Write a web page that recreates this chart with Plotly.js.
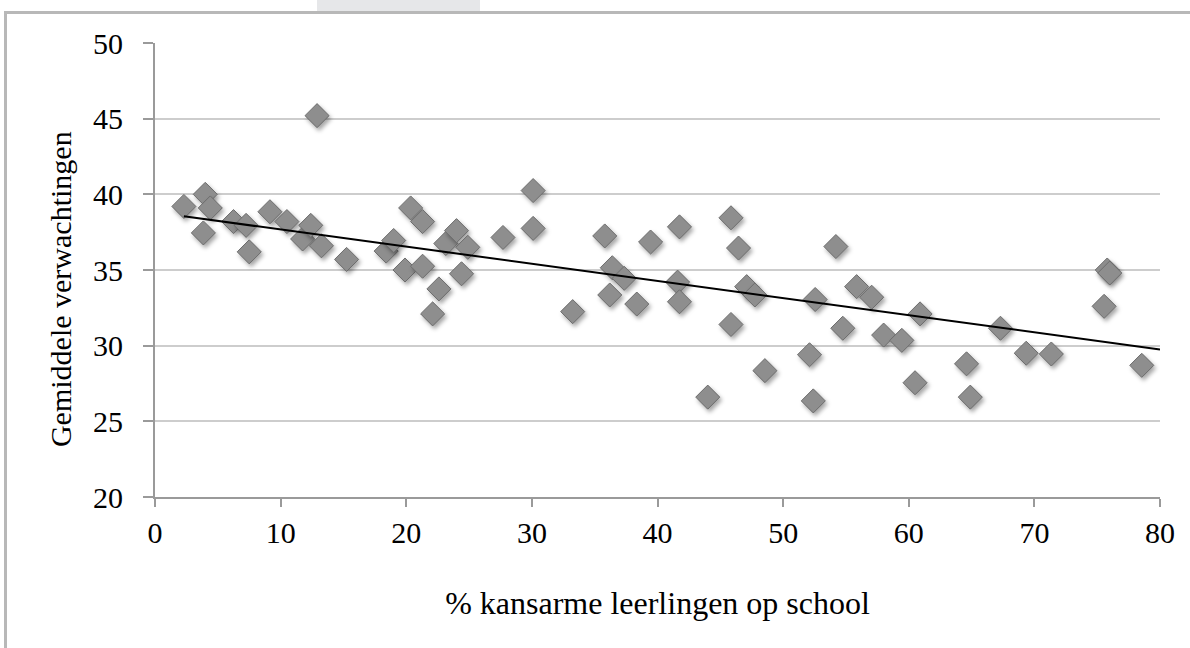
<!DOCTYPE html>
<html>
<head>
<meta charset="utf-8">
<script src="https://cdn.plot.ly/plotly-3.0.1.min.js"></script>
<style>
  html, body { margin: 0; padding: 0; background: #ffffff; overflow: hidden; }
  #chart { width: 1190px; height: 648px; }
  #frame { position: absolute; left: 4px; top: 11px; width: 1300px; height: 800px;
           border: 3px solid #b8b8b8; pointer-events: none; box-sizing: border-box; }
  #tab { position: absolute; left: 317px; top: 0px; width: 163px; height: 11px;
         background: #e6e7e9; pointer-events: none; }
  .scatterlayer .trace:first-child .points path {
    filter: drop-shadow(2px 3px 2px rgba(0,0,0,0.35));
  }
</style>
</head>
<body>
<div id="chart"></div>
<div id="frame"></div>
<div id="tab"></div>
<script>
// % kansarme leerlingen op school
const pctKansarm = [
  2.3, 4.0, 4.4, 3.85, 6.25, 7.25, 7.5, 9.15, 10.5, 11.75,
  12.4, 13.25, 12.9, 15.25, 18.4, 19.0, 19.9, 20.35, 21.3, 21.3,
  22.1, 22.6, 23.15, 24.0, 24.4, 24.9, 27.7, 30.1, 30.1, 33.25,
  35.8, 36.4, 36.2, 37.35, 38.35, 39.45, 41.75, 41.6, 41.75, 44.0,
  45.85, 46.45, 47.1, 47.75, 45.85, 48.55, 52.1, 52.4, 52.55, 54.2,
  54.75, 55.85, 57.05, 58.0, 59.45, 60.9, 60.5, 64.6, 64.9, 67.3,
  69.35, 71.35, 75.8, 76.0, 75.55, 78.55
];
// Gemiddelde verwachtingen
const verwachtingen = [
  39.2, 40.0, 39.1, 37.45, 38.2, 37.95, 36.2, 38.85, 38.2, 37.05,
  37.95, 36.6, 45.2, 35.7, 36.25, 36.95, 35.0, 39.1, 38.2, 35.25,
  32.1, 33.75, 36.75, 37.6, 34.75, 36.5, 37.15, 40.25, 37.75, 32.25,
  37.25, 35.15, 33.35, 34.45, 32.75, 36.85, 37.85, 34.2, 32.9, 26.6,
  38.45, 36.45, 33.9, 33.35, 31.4, 28.35, 29.4, 26.35, 33.05, 36.55,
  31.15, 33.9, 33.2, 30.7, 30.35, 32.1, 27.55, 28.8, 26.6, 31.15,
  29.5, 29.45, 35.0, 34.8, 32.6, 28.7
];
// Trendline end points
const trendX = [2.3, 80];
const trendY = [38.55, 29.75];

const xTicks = [0, 10, 20, 30, 40, 50, 60, 70, 80];
const yTicks = [20, 25, 30, 35, 40, 45, 50];

const xTitle = '% kansarme leerlingen op school';
const yTitle = 'Gemiddele verwachtingen';

const fontFam = 'Liberation Serif, Times New Roman, serif';

const traces = [
  {
    type: 'scatter', mode: 'markers',
    x: pctKansarm, y: verwachtingen,
    marker: { symbol: 'diamond', size: 18.5, color: '#8e8e8e',
              line: { color: '#6c6c6c', width: 1 } },
    showlegend: false, hoverinfo: 'x+y'
  },
  {
    type: 'scatter', mode: 'lines',
    x: trendX, y: trendY,
    line: { color: '#000000', width: 2 },
    showlegend: false, hoverinfo: 'skip'
  }
];

const layout = {
  width: 1190, height: 648,
  margin: { l: 155, r: 30, t: 43, b: 151 },
  paper_bgcolor: 'rgba(0,0,0,0)', plot_bgcolor: '#ffffff',
  font: { family: fontFam, size: 30, color: '#000000' },
  xaxis: {
    range: [0, 80], tickmode: 'array', tickvals: xTicks, ticktext: xTicks.map(String),
    showgrid: false, zeroline: false,
    showline: true, linecolor: '#9a9a9a', linewidth: 2,
    ticks: 'outside', ticklen: 8, tickwidth: 1.5, tickcolor: '#9a9a9a',
    ticklabelstandoff: 0,
    tickfont: { family: fontFam, size: 30, color: '#000000' },
    title: { text: xTitle, standoff: 44,
             font: { family: fontFam, size: 32, color: '#000000' } },
    automargin: false, fixedrange: true
  },
  yaxis: {
    range: [20, 50], tickmode: 'array', tickvals: yTicks, ticktext: yTicks.map(String),
    showgrid: true, gridcolor: '#cdcdcd', gridwidth: 2, zeroline: false,
    showline: true, linecolor: '#9a9a9a', linewidth: 2,
    ticks: 'outside', ticklen: 10, tickwidth: 1.5, tickcolor: '#9a9a9a',
    ticklabelstandoff: 14,
    tickfont: { family: fontFam, size: 30, color: '#000000' },
    automargin: false, fixedrange: true
  },
  annotations: [{
    text: yTitle, textangle: -90, showarrow: false,
    xref: 'paper', yref: 'paper', x: 0, y: 0.458,
    xanchor: 'center', yanchor: 'middle', xshift: -95,
    font: { family: fontFam, size: 30, color: '#000000' }
  }]
};

Plotly.newPlot('chart', traces, layout, { displayModeBar: false });
</script>
</body>
</html>
